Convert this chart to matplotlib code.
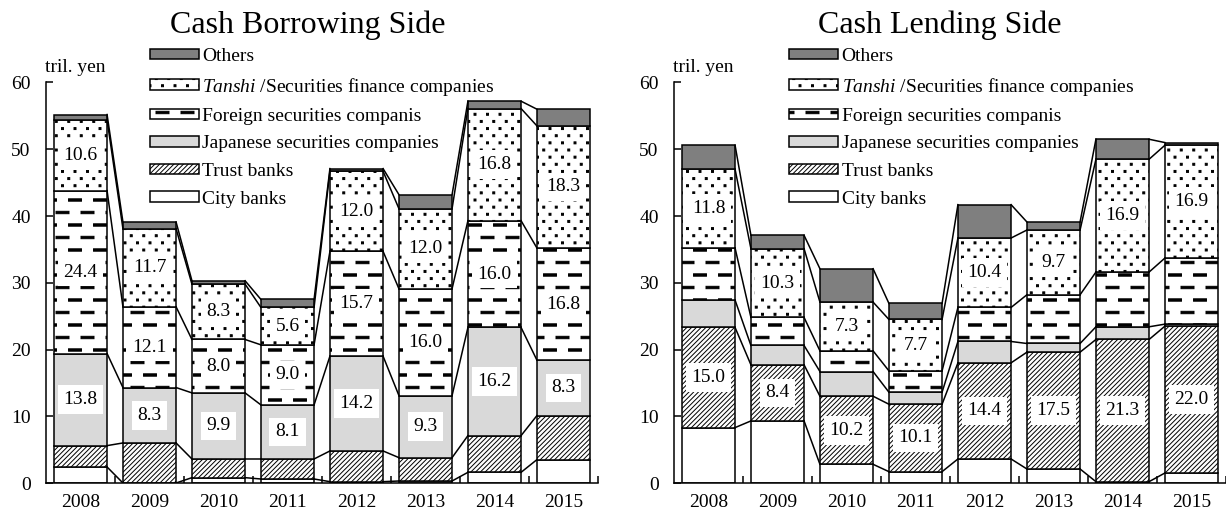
import numpy as np
import matplotlib
matplotlib.use('Agg')
import matplotlib.pyplot as plt
from matplotlib import hatch as mhatch
from matplotlib.path import Path

# data (tril. yen), bottom to top
years = ['2008', '2009', '2010', '2011', '2012', '2013', '2014', '2015']
series_names = ['City banks', 'Trust banks', 'Japanese securities companies',
                'Foreign securities companis',
                r'$\mathit{Tanshi}$ /Securities finance companies', 'Others']

borrow_city = [2.4, 0.0, 0.8, 0.6, 0.2, 0.3, 1.6, 3.5]
borrow_trust = [3.2, 6.0, 2.8, 3.0, 4.6, 3.5, 5.5, 6.6]
borrow_japan = [13.8, 8.3, 9.9, 8.1, 14.2, 9.3, 16.2, 8.3]
borrow_foreign = [24.4, 12.1, 8.0, 9.0, 15.7, 16.0, 16.0, 16.8]
borrow_tanshi = [10.6, 11.7, 8.3, 5.6, 12.0, 12.0, 16.8, 18.3]
borrow_others = [0.8, 1.0, 0.5, 1.2, 0.4, 2.1, 1.1, 2.5]

lend_city = [8.3, 9.3, 2.8, 1.7, 3.6, 2.1, 0.2, 1.5]
lend_trust = [15.0, 8.4, 10.2, 10.1, 14.4, 17.5, 21.3, 22.0]
lend_japan = [4.1, 2.9, 3.7, 1.8, 3.2, 1.3, 1.9, 0.3]
lend_foreign = [7.8, 4.2, 3.1, 3.2, 5.1, 7.3, 8.2, 9.9]
lend_tanshi = [11.8, 10.3, 7.3, 7.7, 10.4, 9.7, 16.9, 16.9]
lend_others = [3.6, 2.0, 5.0, 2.4, 5.0, 1.2, 3.0, 0.4]


# custom hatches: small filled blocks on a grid (dots and dashes)
class BlockHatch(mhatch.HatchPatternBase):
    char = ''
    ncols = 1
    nrows = 1
    w = 0.1
    h = 0.03
    stagger = False

    def __init__(self, hatch, density):
        self.on = self.char in hatch
        self.num_vertices = len(self._centres()) * 5 if self.on else 0

    def _centres(self):
        pts = []
        for r in range(self.nrows + 1):
            shift = 0.5 if (self.stagger and r % 2) else 0.0
            for c in range(-1, self.ncols + 1):
                x = (c + shift) / self.ncols
                if -self.w <= x <= 1 + self.w:
                    pts.append((x, r / self.nrows))
        return np.array(pts)

    def set_vertices_and_codes(self, vertices, codes):
        box = np.array([[-1, -1], [1, -1], [1, 1], [-1, 1], [-1, -1]]) * [self.w / 2, self.h / 2]
        cc = self._centres()
        vertices[:] = (cc[:, None, :] + box[None]).reshape(-1, 2)
        codes[:] = np.tile([Path.MOVETO, Path.LINETO, Path.LINETO, Path.LINETO, Path.CLOSEPOLY], len(cc))


class DotHatch(BlockHatch):
    char = '.'
    ncols = 8
    nrows = 14
    w = 0.02
    h = 0.02
    stagger = True


class DashHatch(BlockHatch):
    char = '-'
    ncols = 4
    nrows = 8
    w = 0.13
    h = 0.024
    stagger = True


mhatch._hatch_types = [mhatch.NorthEastHatch, DotHatch, DashHatch]

plt.rcParams['font.family'] = 'Liberation Serif'
plt.rcParams['mathtext.fontset'] = 'custom'
plt.rcParams['mathtext.it'] = 'Liberation Serif:italic'
plt.rcParams['mathtext.rm'] = 'Liberation Serif'
plt.rcParams['hatch.linewidth'] = 0.7
plt.rcParams['hatch.color'] = 'black'

colors = ['white', 'white', '#d9d9d9', 'white', 'white', '#7f7f7f']
hatches = [None, '///////', None, '-', '.', None]

W = 1226
H = 511
fig = plt.figure(figsize=(W / 100, H / 100), dpi=100)

bar_w = 0.77
x = np.arange(len(years))


def draw_panel(ax, data, labelled, title, title_x, legend_x):
    bottom = np.zeros(len(years))
    bars = []
    levels = []
    for k, vals in enumerate(data):
        vals = np.array(vals)
        b = ax.bar(x, vals, bar_w, bottom=bottom, color=colors[k], hatch=hatches[k],
                   edgecolor='black', linewidth=1.1, zorder=2, label=series_names[k])
        bars.append(b)
        if k in labelled:
            for i in range(len(years)):
                ax.text(x[i], bottom[i] + vals[i] / 2, f'{vals[i]:.1f}', ha='center', va='center',
                        fontsize=14, zorder=5,
                        bbox=dict(boxstyle='square,pad=0.3', facecolor='white', edgecolor='none'))
        bottom = bottom + vals
        levels.append(bottom.copy())

    # series lines between neighbouring bars
    for lev in levels:
        for i in range(len(years) - 1):
            ax.plot([x[i] + bar_w / 2, x[i + 1] - bar_w / 2], [lev[i], lev[i + 1]],
                    color='black', linewidth=1.1, zorder=3)

    ax.set_xlim(-0.5, len(years) - 0.5)
    ax.set_ylim(0, 60)
    ax.set_yticks(range(0, 61, 10))
    ax.set_xticks(x)
    ax.set_xticklabels(years)
    ax.set_xticks(np.arange(0.5, len(years), 1), minor=True)
    ax.tick_params(axis='y', direction='in', length=5, width=1.1, pad=11, labelsize=14)
    ax.tick_params(axis='x', which='major', length=0, pad=8, labelsize=14)
    ax.tick_params(axis='x', which='minor', direction='in', length=5, width=1.1)
    for s in ['top', 'right']:
        ax.spines[s].set_visible(False)
    for s in ['left', 'bottom']:
        ax.spines[s].set_linewidth(1.1)

    x0 = ax.get_position().x0
    fig.text(x0 - 1 / W, 1 - 67 / H, 'tril. yen', ha='left', va='center', fontsize=14)
    fig.text(title_x / W, 1 - 25 / H, title, ha='center', va='center', fontsize=23)

    ax.legend(bars[::-1], series_names[::-1], loc='upper left',
              bbox_to_anchor=(legend_x / W, 1 - 48 / H), bbox_transform=fig.transFigure,
              frameon=False, borderpad=0, borderaxespad=0, handlelength=2.5, handleheight=0.45,
              handletextpad=0.2, labelspacing=0.54, fontsize=14)


ax1 = fig.add_axes([46 / W, 28 / H, 552 / W, 400.5 / H])
draw_panel(ax1, [borrow_city, borrow_trust, borrow_japan, borrow_foreign, borrow_tanshi, borrow_others],
           [2, 3, 4], 'Cash Borrowing Side', 308, 150)

ax2 = fig.add_axes([674 / W, 28 / H, 552 / W, 400.5 / H])
draw_panel(ax2, [lend_city, lend_trust, lend_japan, lend_foreign, lend_tanshi, lend_others],
           [1, 4], 'Cash Lending Side', 940, 789)

fig.savefig('out.png', dpi=100)
